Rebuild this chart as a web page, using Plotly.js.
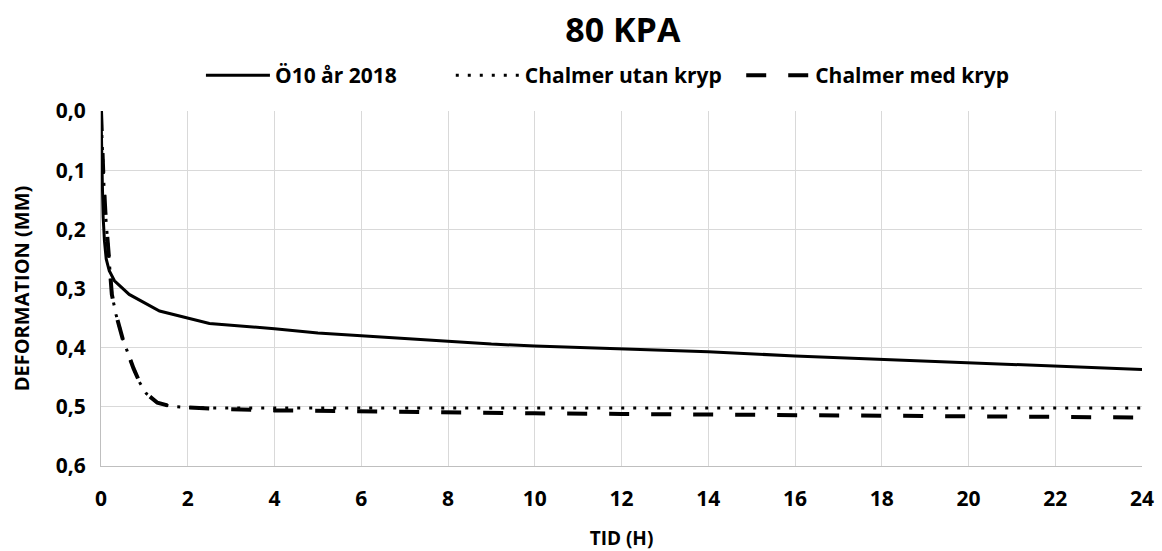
<!DOCTYPE html>
<html>
<head>
<meta charset="utf-8">
<script src="https://cdn.plot.ly/plotly-3.0.1.min.js"></script>
<style>html,body{margin:0;padding:0;background:#fff;}#chart{width:1162px;height:551px;}</style>
</head>
<body>
<div id="chart"></div>
<script>
// Data
const timeO10 = [0, 0.01, 0.03, 0.05, 0.08, 0.12, 0.19, 0.31, 0.65, 1.35, 2.5, 4, 5, 6, 7, 8, 9, 10, 11.5, 14, 16, 18, 20, 22, 24];
const defO10  = [0, 0.06, 0.12, 0.18, 0.22, 0.25, 0.27, 0.287, 0.31, 0.338, 0.359, 0.368, 0.375, 0.380, 0.385, 0.390, 0.394, 0.397, 0.401, 0.407, 0.414, 0.420, 0.426, 0.431, 0.437];

const timeChalmer = [0, 0.02, 0.05, 0.1, 0.15, 0.2, 0.25, 0.35, 0.5, 0.6, 0.75, 0.9, 1.05, 1.3, 1.6, 2, 2.5, 4, 6, 8, 10, 12, 14, 16, 18, 20, 22, 24];
const defUtan = [0, 0.05, 0.1, 0.17, 0.22, 0.27, 0.31, 0.345, 0.385, 0.405, 0.435, 0.46, 0.478, 0.493, 0.499, 0.501, 0.502, 0.502, 0.502, 0.502, 0.502, 0.502, 0.502, 0.502, 0.502, 0.502, 0.502, 0.502];
const defMed  = [0, 0.05, 0.1, 0.17, 0.22, 0.27, 0.31, 0.345, 0.385, 0.405, 0.435, 0.46, 0.478, 0.493, 0.499, 0.501, 0.503, 0.506, 0.508, 0.509, 0.511, 0.512, 0.513, 0.514, 0.515, 0.516, 0.517, 0.518];

const seriesNames = ["Ö10 år 2018", "Chalmer utan kryp", "Chalmer med kryp"];
const xTicks = [0, 2, 4, 6, 8, 10, 12, 14, 16, 18, 20, 22, 24];
const xTickLabels = ["0", "2", "4", "6", "8", "10", "12", "14", "16", "18", "20", "22", "24"];
const yTicks = [0, 0.1, 0.2, 0.3, 0.4, 0.5, 0.6];
const yTickLabels = ["0,0", "0,1", "0,2", "0,3", "0,4", "0,5", "0,6"];

const FONT = "'Open Sans', sans-serif";
const bold = s => "<b>" + s + "</b>";

const traces = [
  {x: timeO10, y: defO10, name: bold(seriesNames[0]), mode: "lines", legend: "legend",
   line: {color: "#000", width: 3, shape: "linear"}},
  {x: timeChalmer, y: defUtan, name: bold(seriesNames[1]), mode: "lines", legend: "legend2",
   line: {color: "#000", width: 3, dash: "3px,9px"}},
  {x: timeChalmer, y: defMed, name: bold(seriesNames[2]), mode: "lines", legend: "legend3",
   line: {color: "#000", width: 4, dash: "20px,22px"}}
];

const legendBase = pos => ({
  orientation: "h", x: pos, xanchor: "left", y: 1.1, yanchor: "middle",
  font: {family: FONT, size: 21, color: "#000"},
  itemwidth: 64, bgcolor: "rgba(0,0,0,0)"
});

const layout = {
  width: 1162, height: 551,
  paper_bgcolor: "#fff", plot_bgcolor: "#fff",
  separators: ", ",
  margin: {l: 101, r: 20, t: 111, b: 85},
  font: {family: FONT, color: "#000"},
  title: {text: bold("80 KPA"), font: {family: FONT, size: 34, color: "#000"},
          x: 0.536, xanchor: "center", y: 0.945, yanchor: "middle"},
  showlegend: true,
  legend: legendBase(0.096),
  legend2: legendBase(0.336),
  legend3: legendBase(0.615),
  xaxis: {
    range: [0, 24], tickvals: xTicks, ticktext: xTickLabels.map(bold),
    showgrid: true, gridcolor: "#d9d9d9", gridwidth: 1,
    zeroline: false, showline: true, linecolor: "#bfbfbf", linewidth: 1,
    ticks: "", ticklabelstandoff: 14, tickfont: {family: FONT, size: 21, color: "#000"},
    title: {text: bold("TID (H)"), font: {family: FONT, size: 19, color: "#000"}, standoff: 20}
  },
  yaxis: {
    range: [0.6, 0], tickvals: yTicks, ticktext: yTickLabels.map(bold),
    showgrid: true, gridcolor: "#d9d9d9", gridwidth: 1,
    zeroline: false, showline: true, linecolor: "#bfbfbf", linewidth: 1,
    ticks: "", ticklabelstandoff: 10, tickfont: {family: FONT, size: 21, color: "#000"},
    title: {text: bold("DEFORMATION (MM)"), font: {family: FONT, size: 20, color: "#000"}, standoff: 20}
  }
};

Plotly.newPlot("chart", traces, layout, {staticPlot: true, displayModeBar: false});
</script>
</body>
</html>
